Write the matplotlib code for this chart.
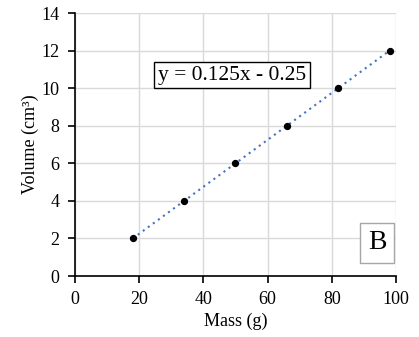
import matplotlib
matplotlib.use("Agg")
import matplotlib.pyplot as plt
import numpy as np

mass = [18, 34, 50, 66, 82, 98]
volume = [2, 4, 6, 8, 10, 12]
slope = 0.125
intercept = -0.25
xticks = [0, 20, 40, 60, 80, 100]
yticks = [0, 2, 4, 6, 8, 10, 12, 14]

plt.rcParams['font.family'] = ['Liberation Serif', 'DejaVu Serif']

fig = plt.figure(figsize=(4.19, 3.37), dpi=100)
ax = fig.add_axes([0.179, 0.181, 0.766, 0.78])

ax.set_xlim(0, 100)
ax.set_ylim(0, 14)
ax.set_xticks(xticks)
ax.set_yticks(yticks)
ax.grid(True, color='#d9d9d9', linewidth=1.0)
ax.set_axisbelow(True)

for s in ['top', 'right']:
    ax.spines[s].set_visible(False)
for s in ['left', 'bottom']:
    ax.spines[s].set_color('black')
    ax.spines[s].set_linewidth(1.2)

ax.tick_params(axis='both', direction='out', length=5, width=1.2, labelsize=13, colors='black')
ax.tick_params(axis='x', pad=6)
ax.tick_params(axis='y', pad=6)

xfit = np.array([mass[0], mass[-1]])
ax.plot(xfit, slope * xfit + intercept, linestyle=(0, (1, 2)), color='#4472c4', linewidth=1.5, zorder=2)
ax.scatter(mass, volume, s=18, color='black', zorder=3)

ax.text(48.9, 10.7, 'y = 0.125x - 0.25', fontsize=15.5, ha='center', va='center',
        bbox=dict(boxstyle='square,pad=0.18', facecolor='white', edgecolor='black', linewidth=1.0))
ax.text(94.1, 1.76, 'B', fontsize=20, ha='center', va='center',
        bbox=dict(boxstyle='square,pad=0.28', facecolor='white', edgecolor='#a6a6a6', linewidth=1.0))

ax.set_xlabel('Mass (g)', fontsize=13, labelpad=3)
ax.set_ylabel('Volume (cm³)', fontsize=13, labelpad=2)

fig.savefig('out.png', dpi=100)
